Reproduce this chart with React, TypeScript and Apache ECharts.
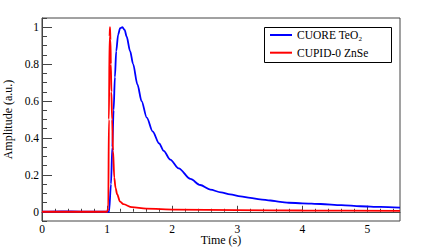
import React, { useEffect, useRef } from "react";
import * as echarts from "echarts";

// CUORE TeO2 pulse (time in s, amplitude in a.u.)
const cuoreTime = [0, 0.3, 0.6, 1.0, 1.03, 1.06, 1.08, 1.1, 1.12, 1.14, 1.17, 1.2, 1.235, 1.27, 1.3, 1.354, 1.4, 1.466, 1.53, 1.61, 1.7, 1.8, 1.87, 1.97, 2.1, 2.28, 2.43, 2.585, 2.75, 2.89, 3.05, 3.2, 3.35, 3.51, 3.66, 3.79, 4.0, 4.28, 4.6, 4.89, 5.2, 5.5];
const cuoreAmp = [0, 0.002, 0.001, 0, 0.0, 0.15, 0.35, 0.55, 0.73, 0.87, 0.96, 0.995, 1.0, 0.985, 0.95, 0.87, 0.8, 0.69, 0.6, 0.51, 0.435, 0.37, 0.33, 0.283, 0.235, 0.178, 0.145, 0.12, 0.105, 0.094, 0.083, 0.075, 0.067, 0.061, 0.054, 0.049, 0.046, 0.042, 0.036, 0.03, 0.026, 0.022];

// CUPID-0 ZnSe pulse
const cupidTime = [0, 0.5, 1.0, 1.018, 1.028, 1.038, 1.045, 1.052, 1.058, 1.066, 1.077, 1.092, 1.11, 1.13, 1.154, 1.2, 1.25, 1.38, 1.6, 2.05, 3.0, 4.0, 5.5];
const cupidAmp = [0, 0, 0, 0.02, 0.5, 0.95, 1.0, 0.93, 0.8, 0.65, 0.5, 0.33, 0.185, 0.13, 0.095, 0.055, 0.041, 0.025, 0.017, 0.012, 0.009, 0.007, 0.005];

const xMajorTicks = [0, 1, 2, 3, 4, 5];
const xMinorTicks = [0.2, 0.4, 0.6, 0.8, 1.2, 1.4, 1.6, 1.8, 2.2, 2.4, 2.6, 2.8, 3.2, 3.4, 3.6, 3.8, 4.2, 4.4, 4.6, 4.8, 5.2, 5.4];
const yMajorTicks = [0, 0.2, 0.4, 0.6, 0.8, 1];
const yMinorTicks = [-0.05, 0.05, 0.1, 0.15, 0.25, 0.3, 0.35, 0.45, 0.5, 0.55, 0.65, 0.7, 0.75, 0.85, 0.9, 0.95, 1.05];

const seriesNames = ["CUORE TeO₂", "CUPID-0 ZnSe"];

export default function App() {
  const ref = useRef<HTMLDivElement>(null);
  useEffect(() => {
    if (!ref.current) return;
    const chart = echarts.init(ref.current, null, { renderer: "svg" });
    const font = "Liberation Serif";
    const axisColor = "#444";
    const xMin = 0, xMax = 5.5, yMin = -0.05, yMax = 1.05;
    chart.setOption({
      animation: false,
      backgroundColor: "#fff",
      textStyle: { fontFamily: font },
      grid: {
        left: 42, top: 18, right: 21, bottom: 26,
        containLabel: false, outerBoundsMode: "none",
        show: true, borderColor: axisColor, borderWidth: 1,
      },
      legend: {
        orient: "vertical",
        left: 270, top: 29,
        itemWidth: 22, itemHeight: 2, itemGap: 5.7,
        icon: "rect",
        padding: 0,
        textStyle: { fontFamily: font, fontSize: 11.5, lineHeight: 12, color: "#000" },
        data: seriesNames,
      },
      graphic: [
        {
          type: "rect",
          shape: { x: 264.5, y: 27.5, width: 127, height: 35 },
          style: { fill: "none", stroke: "#000", lineWidth: 1 },
          z: 10,
        },
      ],
      xAxis: [
        {
          type: "value", min: xMin, max: xMax,
          name: "Time (s)", nameLocation: "middle", nameGap: 13, nameMoveOverlap: false,
          nameTextStyle: { fontFamily: font, fontSize: 12, lineHeight: 12, color: "#000" },
          axisLine: { show: true, lineStyle: { color: axisColor, width: 1 } },
          axisTick: { show: true, inside: true, length: 6, customValues: xMajorTicks, lineStyle: { color: axisColor } },
          axisLabel: { customValues: xMajorTicks, margin: 2, fontFamily: font, fontSize: 11.5, lineHeight: 11, color: "#000" },
          splitLine: { show: false },
        },
        {
          type: "value", min: xMin, max: xMax, position: "bottom",
          axisLine: { show: false },
          axisTick: { show: true, inside: true, length: 3, customValues: xMinorTicks, lineStyle: { color: axisColor } },
          axisLabel: { show: false },
          splitLine: { show: false },
        },
      ],
      yAxis: [
        {
          type: "value", min: yMin, max: yMax,
          name: "Amplitude (a.u.)", nameLocation: "middle", nameGap: 28, nameMoveOverlap: false,
          nameTextStyle: { fontFamily: font, fontSize: 12, color: "#000" },
          axisLine: { show: true, lineStyle: { color: axisColor, width: 1 } },
          axisTick: { show: true, inside: true, length: 10, customValues: yMajorTicks, lineStyle: { color: axisColor } },
          axisLabel: { customValues: yMajorTicks, margin: 3, fontFamily: font, fontSize: 11.5, color: "#000",
            formatter: (v: number) => String(Math.round(v * 10) / 10) },
          splitLine: { show: false },
        },
        {
          type: "value", min: yMin, max: yMax, position: "left",
          axisLine: { show: false },
          axisTick: { show: true, inside: true, length: 5, customValues: yMinorTicks, lineStyle: { color: axisColor } },
          axisLabel: { show: false },
          splitLine: { show: false },
        },
      ],
      series: [
        {
          name: seriesNames[0], type: "line", xAxisIndex: 0, yAxisIndex: 0,
          symbol: "none", smooth: 0.3, smoothMonotone: "x",
          lineStyle: { color: "#0000ff", width: 1.8 }, itemStyle: { color: "#0000ff" },
          data: cuoreTime.map((t, i) => [t, cuoreAmp[i]]),
        },
        {
          name: seriesNames[1], type: "line", xAxisIndex: 0, yAxisIndex: 0,
          symbol: "none", smooth: 0.3, smoothMonotone: "x",
          lineStyle: { color: "#ff0000", width: 1.8 }, itemStyle: { color: "#ff0000" },
          data: cupidTime.map((t, i) => [t, cupidAmp[i]]),
        },
      ],
    });
    return () => chart.dispose();
  }, []);
  return <div ref={ref} style={{ position: "fixed", left: 0, top: 0, width: 421, height: 247 }} />;
}
